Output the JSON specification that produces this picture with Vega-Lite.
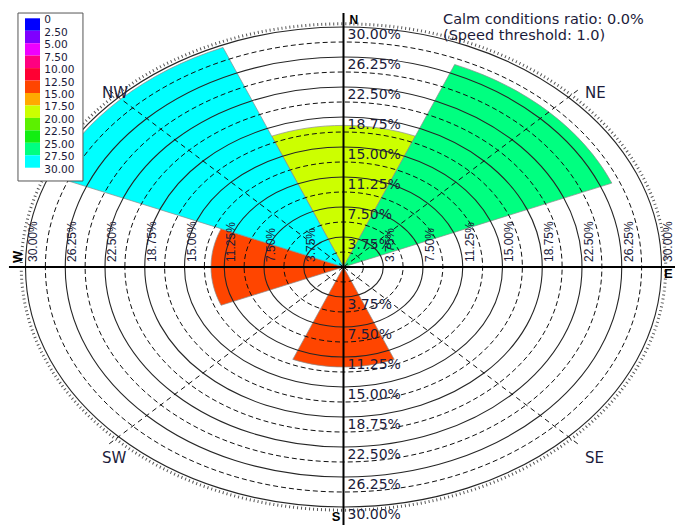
{
  "$schema": "https://vega.github.io/schema/vega-lite/v6.json",
  "width": 675,
  "height": 525,
  "autosize": {"type": "none"},
  "padding": 0,
  "background": "white",
  "config": {"view": {"stroke": null}, "axis": {"disable": true}},
  "datasets": {
    "sectors": [
      {"dir": "N", "pct": 17.7},
      {"dir": "NE", "pct": 27.4},
      {"dir": "E", "pct": 0},
      {"dir": "SE", "pct": 0},
      {"dir": "S", "pct": 12.5},
      {"dir": "SW", "pct": 0},
      {"dir": "W", "pct": 12.5},
      {"dir": "NW", "pct": 29.7}
    ],
    "rings": [
      {"pct": 1.875, "kind": "minor"},
      {"pct": 3.75, "kind": "major", "label": "3.75%"},
      {"pct": 5.625, "kind": "minor"},
      {"pct": 7.5, "kind": "major", "label": "7.50%"},
      {"pct": 9.375, "kind": "minor"},
      {"pct": 11.25, "kind": "major", "label": "11.25%"},
      {"pct": 13.125, "kind": "minor"},
      {"pct": 15, "kind": "major", "label": "15.00%"},
      {"pct": 16.875, "kind": "minor"},
      {"pct": 18.75, "kind": "major", "label": "18.75%"},
      {"pct": 20.625, "kind": "minor"},
      {"pct": 22.5, "kind": "major", "label": "22.50%"},
      {"pct": 24.375, "kind": "minor"},
      {"pct": 26.25, "kind": "major", "label": "26.25%"},
      {"pct": 28.125, "kind": "minor"},
      {"pct": 30, "kind": "major", "label": "30.00%"}
    ],
    "spokes": [
      {"dir": "NE", "east": 22.1, "north": 22.1},
      {"dir": "SE", "east": 22.1, "north": -22.1},
      {"dir": "SW", "east": -22.1, "north": -22.1},
      {"dir": "NW", "east": -22.1, "north": 22.1}
    ],
    "corners": [
      {"label": "NE", "east": 22.78, "north": 22.6},
      {"label": "NW", "east": -22.78, "north": 22.6},
      {"label": "SW", "east": -22.78, "north": -23.0},
      {"label": "SE", "east": 22.78, "north": -23.0}
    ],
    "legend": [
      {"lo": 0, "hi": 2.5, "label": "0"},
      {"lo": 2.5, "hi": 5, "label": "2.50"},
      {"lo": 5, "hi": 7.5, "label": "5.00"},
      {"lo": 7.5, "hi": 10, "label": "7.50"},
      {"lo": 10, "hi": 12.5, "label": "10.00"},
      {"lo": 12.5, "hi": 15, "label": "12.50"},
      {"lo": 15, "hi": 17.5, "label": "15.00"},
      {"lo": 17.5, "hi": 20, "label": "17.50"},
      {"lo": 20, "hi": 22.5, "label": "20.00"},
      {"lo": 22.5, "hi": 25, "label": "22.50"},
      {"lo": 25, "hi": 27.5, "label": "25.00"},
      {"lo": 27.5, "hi": 30, "label": "27.50"},
      {"lo": 30, "label": "30.00"}
    ]
  },
  "resolve": {"scale": {"x": "independent", "y": "independent"}},
  "layer": [
    {
      "data": {"name": "sectors"},
      "transform": [{"filter": "datum.pct > 0"}],
      "mark": {"type": "point", "filled": true, "opacity": 1, "stroke": "#8a8a8a", "strokeWidth": 0.7},
      "encoding": {
        "x": {"datum": 0, "type": "quantitative", "scale": {"domain": [-32.406, 31.274], "nice": false, "zero": false}},
        "y": {"datum": 0, "type": "quantitative", "scale": {"domain": [-32.25, 33.375], "nice": false, "zero": false}},
        "shape": {
          "field": "dir", "type": "nominal", "legend": null,
          "scale": {
            "domain": ["N", "NE", "E", "SE", "S", "SW", "W", "NW"],
            "range": [
              "M0,0L-0.38268,-0.69725A1,0.7547,0,0,1,0.38268,-0.69725Z",
              "M0,0L0.38268,-0.69725A1,0.7547,0,0,1,0.92388,-0.28881Z",
              "M0,0L0.92388,-0.28881A1,0.7547,0,0,1,0.92388,0.28881Z",
              "M0,0L0.92388,0.28881A1,0.7547,0,0,1,0.38268,0.69725Z",
              "M0,0L0.38268,0.69725A1,0.7547,0,0,1,-0.38268,0.69725Z",
              "M0,0L-0.38268,0.69725A1,0.7547,0,0,1,-0.92388,0.28881Z",
              "M0,0L-0.92388,0.28881A1,0.7547,0,0,1,-0.92388,-0.28881Z",
              "M0,0L-0.92388,-0.28881A1,0.7547,0,0,1,-0.38268,-0.69725Z"
            ]
          }
        },
        "size": {"field": "pct", "type": "quantitative", "legend": null, "scale": {"type": "pow", "exponent": 2, "domain": [0, 30], "range": [0, 404496]}},
        "color": {
          "field": "pct", "type": "quantitative", "legend": null,
          "scale": {
            "type": "threshold",
            "domain": [2.5, 5, 7.5, 10, 12.5, 15, 17.5, 20, 22.5, 25, 27.5],
            "range": ["#0000ff", "#7f00ff", "#ee00ff", "#ff0080", "#ff0033", "#ff4500", "#ffaa00", "#ccff00", "#5cf000", "#12ee12", "#00ff80", "#00ffff"]
          }
        }
      }
    },
    {
      "data": {"name": "rings"},
      "transform": [{"filter": "datum.kind === 'minor'"}],
      "mark": {"type": "point", "shape": "M-1,0A1,0.7547,0,1,1,1,0A1,0.7547,0,1,1,-1,0Z", "filled": false, "opacity": 1, "stroke": "#111111", "strokeWidth": 1, "strokeDash": [5, 3]},
      "encoding": {
        "x": {"datum": 0, "type": "quantitative", "scale": {"domain": [-32.406, 31.274], "nice": false, "zero": false}},
        "y": {"datum": 0, "type": "quantitative", "scale": {"domain": [-32.25, 33.375], "nice": false, "zero": false}},
        "size": {"field": "pct", "type": "quantitative", "legend": null, "scale": {"type": "pow", "exponent": 2, "domain": [0, 30], "range": [0, 404496]}}
      }
    },
    {
      "data": {"name": "rings"},
      "transform": [{"filter": "datum.kind === 'major'"}],
      "mark": {"type": "point", "shape": "M-1,0A1,0.7547,0,1,1,1,0A1,0.7547,0,1,1,-1,0Z", "filled": false, "opacity": 1, "stroke": "#262626", "strokeWidth": 1.1},
      "encoding": {
        "x": {"datum": 0, "type": "quantitative", "scale": {"domain": [-32.406, 31.274], "nice": false, "zero": false}},
        "y": {"datum": 0, "type": "quantitative", "scale": {"domain": [-32.25, 33.375], "nice": false, "zero": false}},
        "size": {"field": "pct", "type": "quantitative", "legend": null, "scale": {"type": "pow", "exponent": 2, "domain": [0, 30], "range": [0, 404496]}}
      }
    },
    {
      "data": {"values": [{}]},
      "mark": {"type": "point", "shape": "M-1,0A1,0.7547,0,1,1,1,0A1,0.7547,0,1,1,-1,0Z", "filled": false, "opacity": 1, "stroke": "#555555", "strokeWidth": 3, "strokeDash": [1, 3]},
      "encoding": {
        "x": {"datum": 0, "type": "quantitative", "scale": {"domain": [-32.406, 31.274], "nice": false, "zero": false}},
        "y": {"datum": 0, "type": "quantitative", "scale": {"domain": [-32.25, 33.375], "nice": false, "zero": false}},
        "size": {"datum": 30.4, "type": "quantitative", "legend": null, "scale": {"type": "pow", "exponent": 2, "domain": [0, 30], "range": [0, 404496]}}
      }
    },
    {
      "data": {"name": "spokes"},
      "mark": {"type": "rule", "stroke": "#111111", "strokeWidth": 1, "strokeDash": [5, 4]},
      "encoding": {
        "x": {"field": "east", "type": "quantitative", "scale": {"domain": [-32.406, 31.274], "nice": false, "zero": false}},
        "y": {"field": "north", "type": "quantitative", "scale": {"domain": [-32.25, 33.375], "nice": false, "zero": false}},
        "x2": {"datum": 0},
        "y2": {"datum": 0}
      }
    },
    {
      "data": {"values": [{}]},
      "mark": {"type": "rule", "stroke": "#000000", "strokeWidth": 2},
      "encoding": {
        "x": {"datum": 0, "type": "quantitative", "scale": {"domain": [-32.406, 31.274], "nice": false, "zero": false}},
        "y": {"datum": 31.75, "type": "quantitative", "scale": {"domain": [-32.25, 33.375], "nice": false, "zero": false}},
        "y2": {"datum": -32.25}
      }
    },
    {
      "data": {"values": [{}]},
      "mark": {"type": "rule", "stroke": "#000000", "strokeWidth": 2},
      "encoding": {
        "x": {"datum": -31.56, "type": "quantitative", "scale": {"domain": [-32.406, 31.274], "nice": false, "zero": false}},
        "x2": {"datum": 31.274},
        "y": {"datum": 0, "type": "quantitative", "scale": {"domain": [-32.25, 33.375], "nice": false, "zero": false}}
      }
    },
    {
      "data": {"name": "rings"},
      "transform": [{"filter": "datum.kind === 'major'"}],
      "mark": {"type": "text", "align": "left", "baseline": "top", "dx": 4, "dy": 1, "font": "DejaVu Sans", "fontSize": 14, "color": "#1b1b3a"},
      "encoding": {
        "x": {"datum": 0, "type": "quantitative", "scale": {"domain": [-32.406, 31.274], "nice": false, "zero": false}},
        "y": {"field": "pct", "type": "quantitative", "scale": {"domain": [-32.25, 33.375], "nice": false, "zero": false}},
        "text": {"field": "label"}
      }
    },
    {
      "data": {"name": "rings"},
      "transform": [{"filter": "datum.kind === 'major'"}],
      "mark": {"type": "text", "align": "left", "baseline": "top", "dx": 4, "dy": 1, "font": "DejaVu Sans", "fontSize": 14, "color": "#1b1b3a"},
      "encoding": {
        "x": {"datum": 0, "type": "quantitative", "scale": {"domain": [-32.406, 31.274], "nice": false, "zero": false}},
        "y": {"field": "pct", "type": "quantitative", "scale": {"domain": [-33.375, 32.25], "reverse": true, "nice": false, "zero": false}},
        "text": {"field": "label"}
      }
    },
    {
      "data": {"name": "rings"},
      "transform": [{"filter": "datum.kind === 'major'"}],
      "mark": {"type": "text", "align": "left", "baseline": "top", "angle": 270, "dx": 5, "dy": 2, "font": "Liberation Sans", "fontSize": 12, "color": "#1b1b3a"},
      "encoding": {
        "x": {"field": "pct", "type": "quantitative", "scale": {"domain": [-32.406, 31.274], "nice": false, "zero": false}},
        "y": {"datum": 0, "type": "quantitative", "scale": {"domain": [-32.25, 33.375], "nice": false, "zero": false}},
        "text": {"field": "label"}
      }
    },
    {
      "data": {"name": "rings"},
      "transform": [{"filter": "datum.kind === 'major'"}],
      "mark": {"type": "text", "align": "left", "baseline": "top", "angle": 270, "dx": 5, "dy": 2, "font": "Liberation Sans", "fontSize": 12, "color": "#1b1b3a"},
      "encoding": {
        "x": {"field": "pct", "type": "quantitative", "scale": {"domain": [-31.274, 32.406], "reverse": true, "nice": false, "zero": false}},
        "y": {"datum": 0, "type": "quantitative", "scale": {"domain": [-32.25, 33.375], "nice": false, "zero": false}},
        "text": {"field": "label"}
      }
    },
    {
      "data": {"name": "corners"},
      "mark": {"type": "text", "align": "left", "baseline": "top", "font": "DejaVu Sans", "fontSize": 15, "color": "#1b1b3a"},
      "encoding": {
        "x": {"field": "east", "type": "quantitative", "scale": {"domain": [-32.406, 31.274], "nice": false, "zero": false}},
        "y": {"field": "north", "type": "quantitative", "scale": {"domain": [-32.25, 33.375], "nice": false, "zero": false}},
        "text": {"field": "label"}
      }
    },
    {
      "data": {"values": [{}]},
      "mark": {"type": "text", "align": "left", "baseline": "bottom", "dx": 6, "font": "Liberation Sans", "fontWeight": "bold", "fontSize": 12, "color": "#000000", "text": "N"},
      "encoding": {
        "x": {"datum": 0, "type": "quantitative", "scale": {"domain": [-32.406, 31.274], "nice": false, "zero": false}},
        "y": {"datum": 30.0, "type": "quantitative", "scale": {"domain": [-32.25, 33.375], "nice": false, "zero": false}}
      }
    },
    {
      "data": {"values": [{}]},
      "mark": {"type": "text", "align": "right", "baseline": "top", "dx": -3, "font": "Liberation Sans", "fontWeight": "bold", "fontSize": 13, "color": "#000000", "text": "S"},
      "encoding": {
        "x": {"datum": 0, "type": "quantitative", "scale": {"domain": [-32.406, 31.274], "nice": false, "zero": false}},
        "y": {"datum": -30.5, "type": "quantitative", "scale": {"domain": [-32.25, 33.375], "nice": false, "zero": false}}
      }
    },
    {
      "data": {"values": [{}]},
      "mark": {"type": "text", "align": "left", "baseline": "alphabetic", "angle": 270, "font": "Liberation Sans", "fontWeight": "bold", "fontSize": 13, "color": "#000000", "text": "W"},
      "encoding": {
        "x": {"datum": -30.33, "type": "quantitative", "scale": {"domain": [-32.406, 31.274], "nice": false, "zero": false}},
        "y": {"datum": 0.5, "type": "quantitative", "scale": {"domain": [-32.25, 33.375], "nice": false, "zero": false}}
      }
    },
    {
      "data": {"values": [{}]},
      "mark": {"type": "text", "align": "left", "baseline": "top", "dy": 1, "font": "Liberation Sans", "fontWeight": "bold", "fontSize": 13, "color": "#000000", "text": "E"},
      "encoding": {
        "x": {"datum": 30.24, "type": "quantitative", "scale": {"domain": [-32.406, 31.274], "nice": false, "zero": false}},
        "y": {"datum": 0, "type": "quantitative", "scale": {"domain": [-32.25, 33.375], "nice": false, "zero": false}}
      }
    },
    {
      "data": {"values": [{}]},
      "mark": {"type": "text", "align": "left", "baseline": "top", "font": "DejaVu Sans", "fontSize": 14.5, "color": "#1b1b3a", "text": "Calm conditions ratio: 0.0%"},
      "encoding": {
        "x": {"datum": 9.387, "type": "quantitative", "scale": {"domain": [-32.406, 31.274], "nice": false, "zero": false}},
        "y": {"datum": 31.75, "type": "quantitative", "scale": {"domain": [-32.25, 33.375], "nice": false, "zero": false}}
      }
    },
    {
      "data": {"values": [{}]},
      "mark": {"type": "text", "align": "left", "baseline": "top", "font": "DejaVu Sans", "fontSize": 14.5, "color": "#1b1b3a", "text": "(Speed threshold: 1.0)"},
      "encoding": {
        "x": {"datum": 9.387, "type": "quantitative", "scale": {"domain": [-32.406, 31.274], "nice": false, "zero": false}},
        "y": {"datum": 29.75, "type": "quantitative", "scale": {"domain": [-32.25, 33.375], "nice": false, "zero": false}}
      }
    },
    {
      "data": {"values": [{}]},
      "mark": {"type": "rect", "fill": "#ffffff", "stroke": "#555555", "strokeWidth": 1},
      "encoding": {
        "x": {"datum": -30.71, "type": "quantitative", "scale": {"domain": [-32.406, 31.274], "nice": false, "zero": false}},
        "x2": {"datum": -24.58},
        "y": {"datum": -1.06, "type": "quantitative", "scale": {"domain": [-3.675, 101.75], "reverse": true, "nice": false, "zero": false}},
        "y2": {"datum": 32.67}
      }
    },
    {
      "data": {"name": "legend"},
      "transform": [{"filter": "datum.lo < 30"}],
      "mark": {"type": "rect"},
      "encoding": {
        "x": {"datum": -30.05, "type": "quantitative", "scale": {"domain": [-32.406, 31.274], "nice": false, "zero": false}},
        "x2": {"datum": -28.63},
        "y": {"field": "lo", "type": "quantitative", "scale": {"domain": [-3.675, 101.75], "reverse": true, "nice": false, "zero": false}},
        "y2": {"field": "hi"},
        "color": {
          "field": "lo", "type": "quantitative", "legend": null,
          "scale": {
            "type": "threshold",
            "domain": [2.5, 5, 7.5, 10, 12.5, 15, 17.5, 20, 22.5, 25, 27.5],
            "range": ["#0000ff", "#7f00ff", "#ee00ff", "#ff0080", "#ff0033", "#ff4500", "#ffaa00", "#ccff00", "#5cf000", "#12ee12", "#00ff80", "#00ffff"]
          }
        }
      }
    },
    {
      "data": {"name": "legend"},
      "mark": {"type": "text", "align": "left", "baseline": "middle", "dy": 2, "font": "DejaVu Sans", "fontSize": 10.6, "color": "#1b1b3a"},
      "encoding": {
        "x": {"datum": -28.23, "type": "quantitative", "scale": {"domain": [-32.406, 31.274], "nice": false, "zero": false}},
        "y": {"field": "lo", "type": "quantitative", "scale": {"domain": [-3.675, 101.75], "reverse": true, "nice": false, "zero": false}},
        "text": {"field": "label"}
      }
    }
  ]
}
